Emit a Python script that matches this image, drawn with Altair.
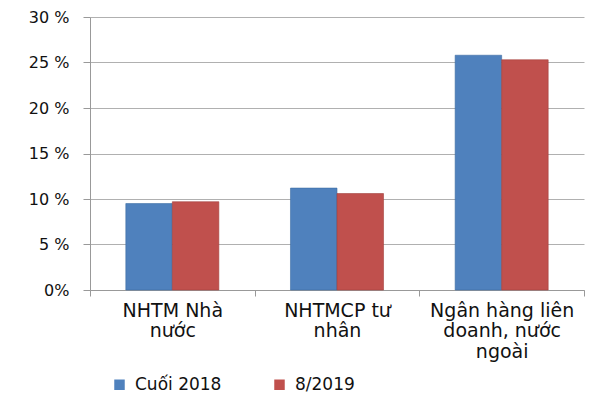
import altair as alt
import pandas as pd

categories = ["NHTM Nhà nước", "NHTMCP tư nhân", "Ngân hàng liên doanh, nước ngoài"]
category_lines = [["NHTM  Nhà", "nước"], ["NHTMCP  tư", "nhân"], ["Ngân hàng liên", "doanh, nước", "ngoài"]]
series = ["Cuối 2018", "8/2019"]
values_2018 = [0.095, 0.112, 0.258]
values_2019 = [0.097, 0.106, 0.253]
colors = ["#4F81BD", "#C0504D"]

rows = []
for c, a, b in zip(categories, values_2018, values_2019):
    rows.append({"cat": c, "series": series[0], "value": a})
    rows.append({"cat": c, "series": series[1], "value": b})
df = pd.DataFrame(rows)

label_expr = " : ".join(
    [f"datum.value == '{c}' ? {lines!r}" for c, lines in zip(categories, category_lines)]
) + " : datum.label"

chart = alt.Chart(df).mark_bar(strokeWidth=0.6).encode(
    x=alt.X("cat:N", sort=categories, title=None,
            scale=alt.Scale(paddingInner=0, paddingOuter=0),
            axis=alt.Axis(labelAngle=0, tickBand="extent", labelExpr=label_expr,
                          labelFont="DejaVu Sans", labelFontSize=19, labelColor="#111",
                          labelLineHeight=20.5, labelPadding=5, labelLimit=220,
                          labelBaseline="top",
                          domainColor="#999", tickColor="#999", tickSize=6, grid=False)),
    xOffset=alt.XOffset("series:N", sort=series, scale=alt.Scale(paddingInner=0, paddingOuter=0.77)),
    y=alt.Y("value:Q", title=None,
            scale=alt.Scale(domain=[0, 0.3]),
            axis=alt.Axis(values=[0, 0.05, 0.1, 0.15, 0.2, 0.25, 0.3],
                          labelExpr="datum.value == 0 ? '0%' : format(datum.value*100, 'd') + ' %'",
                          labelFont="DejaVu Sans", labelFontSize=16, labelColor="#111",
                          labelPadding=14, domainColor="#999", tickColor="#999", tickSize=7,
                          gridColor="#b0b0b0", gridWidth=1)),
    color=alt.Color("series:N", sort=series,
                    scale=alt.Scale(domain=series, range=colors),
                    legend=alt.Legend(title=None, orient="none", legendX=21, legendY=359,
                                      direction="horizontal", symbolType="square",
                                      symbolSize=110, symbolStrokeWidth=0,
                                      labelFont="DejaVu Sans", labelFontSize=17, labelColor="#111",
                                      labelLimit=300, columnPadding=49, labelOffset=7)),
    stroke=alt.Stroke("series:N", sort=series,
                      scale=alt.Scale(domain=series, range=["#3d6da3", "#a23f3c"]), legend=None),
).properties(
    width=494, height=273,
    autosize=alt.AutoSizeParams(type="none"),
    padding={"left": 82, "top": 9, "right": 8, "bottom": 108},
).configure_view(stroke=None).configure_axis(domainWidth=1)

chart.save("out.html", embed_options={"renderer": "svg", "actions": False})
